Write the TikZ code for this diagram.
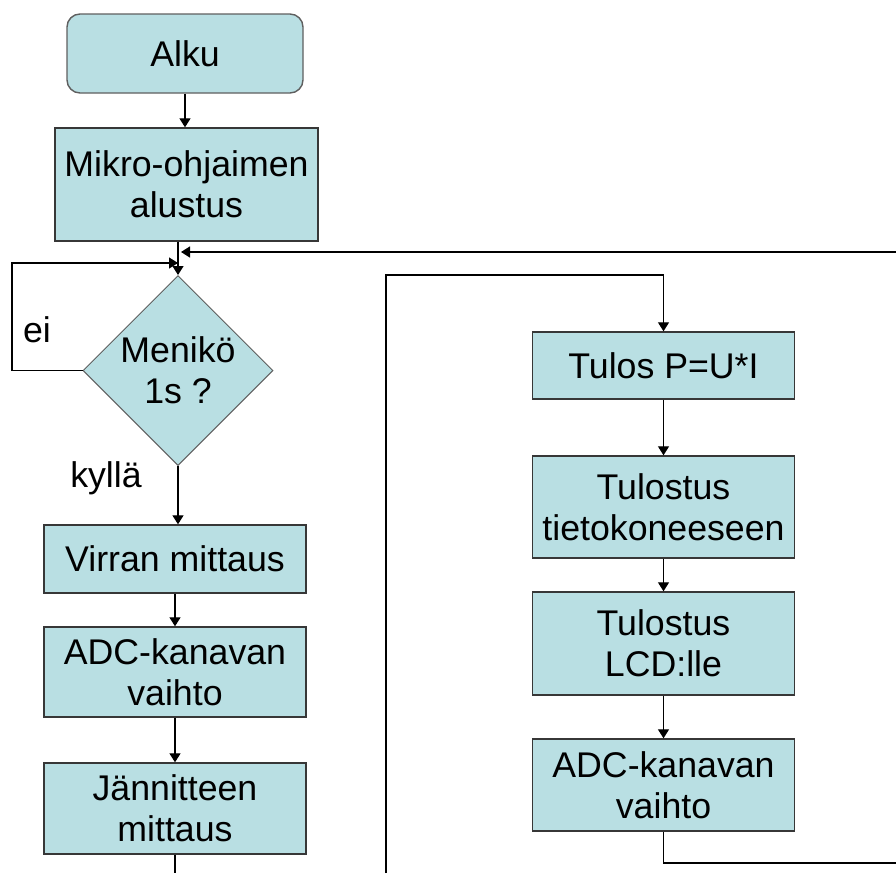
\documentclass[tikz,border=0pt]{standalone}
\usepackage{fontspec}
\setmainfont{Liberation Sans}
\usetikzlibrary{shapes.geometric,arrows.meta}
\definecolor{boxfill}{RGB}{185,223,227}
\definecolor{boxline}{RGB}{55,55,55}
\definecolor{dialine}{RGB}{95,95,95}
\tikzset{
	txt/.style={font=\fontsize{35.7}{41}\selectfont,align=center,inner sep=0pt},
	box/.style={txt,draw=boxline,fill=boxfill,line width=1.4pt,minimum width=262pt},
	start/.style={box,draw=dialine,rounded corners=13pt},
	decision/.style={txt,shape=diamond,aspect=1,draw=dialine,fill=boxfill,line width=1pt,minimum width=190pt,minimum height=190pt},
	lbl/.style={txt,anchor=base},
	arr/.style={-{Triangle[length=9pt,width=11pt]},line width=1.3pt},
	link/.style={line width=1.3pt}
}
\begin{document}
\begin{tikzpicture}[x=1pt,y=-1pt]
	\useasboundingbox (0,0) rectangle (896,873);
	\node[start,minimum width=236pt,minimum height=79pt] (alku) at (185,53.5) {Alku};
	\node[box,minimum width=263pt,minimum height=113pt] (mikro) at (186.5,184.5) {Mikro-ohjaimen\\alustus};
	\node[decision] (menik) at (178,370.5) {Menikö\\1s ?};
	\node[box,minimum height=68pt] (virran) at (175,559) {Virran mittaus};
	\node[box,minimum height=90pt] (adca) at (175,672) {ADC-kanavan\\vaihto};
	\node[box,minimum height=91pt] (jann) at (175,808.5) {Jännitteen\\mittaus};
	\node[box,minimum height=67pt] (tulos) at (663.5,365.5) {Tulos P=U*I};
	\node[box,minimum height=102pt] (tieto) at (663.5,507) {Tulostus\\tietokoneeseen};
	\node[box,minimum height=103pt] (lcd) at (663.5,643.5) {Tulostus\\LCD:lle};
	\node[box,minimum height=92pt] (adcb) at (663.5,785) {ADC-kanavan\\vaihto};
	\node[lbl] (ei) at (37,342) {ei};
	\node[lbl] (kylla) at (106,487) {kyllä};
	\path (178,263) coordinate (jn)
	(12,263) coordinate (einw)
	(896,252) coordinate (topin)
	(175,873) coordinate (jannout)
	(386,873) coordinate (loopin)
	(386,275) coordinate (loopturn)
	(896,863) coordinate (adcout);
	\draw[arr] (alku.south) -- (alku.south |- mikro.north);
	\draw[link] (mikro.south -| jn) -- (jn);
	\draw[arr] (jn) -- (menik.north);
	\draw[arr,shorten >=3pt] (topin) -- (topin -| jn);
	\draw[arr] (menik.west) -| (einw) -- (jn);
	\draw[arr] (menik.south) -- (menik.south |- virran.north);
	\draw[arr] (virran) -- (adca);
	\draw[arr] (adca) -- (jann);
	\draw[link] (jann) -- (jannout);
	\draw[arr] (loopin) -- (loopturn) -| (tulos.north);
	\draw[arr] (tulos) -- (tieto);
	\draw[arr] (tieto) -- (lcd);
	\draw[arr] (lcd) -- (adcb);
	\draw[link] (adcb.south) |- (adcout);
\end{tikzpicture}
\end{document}
